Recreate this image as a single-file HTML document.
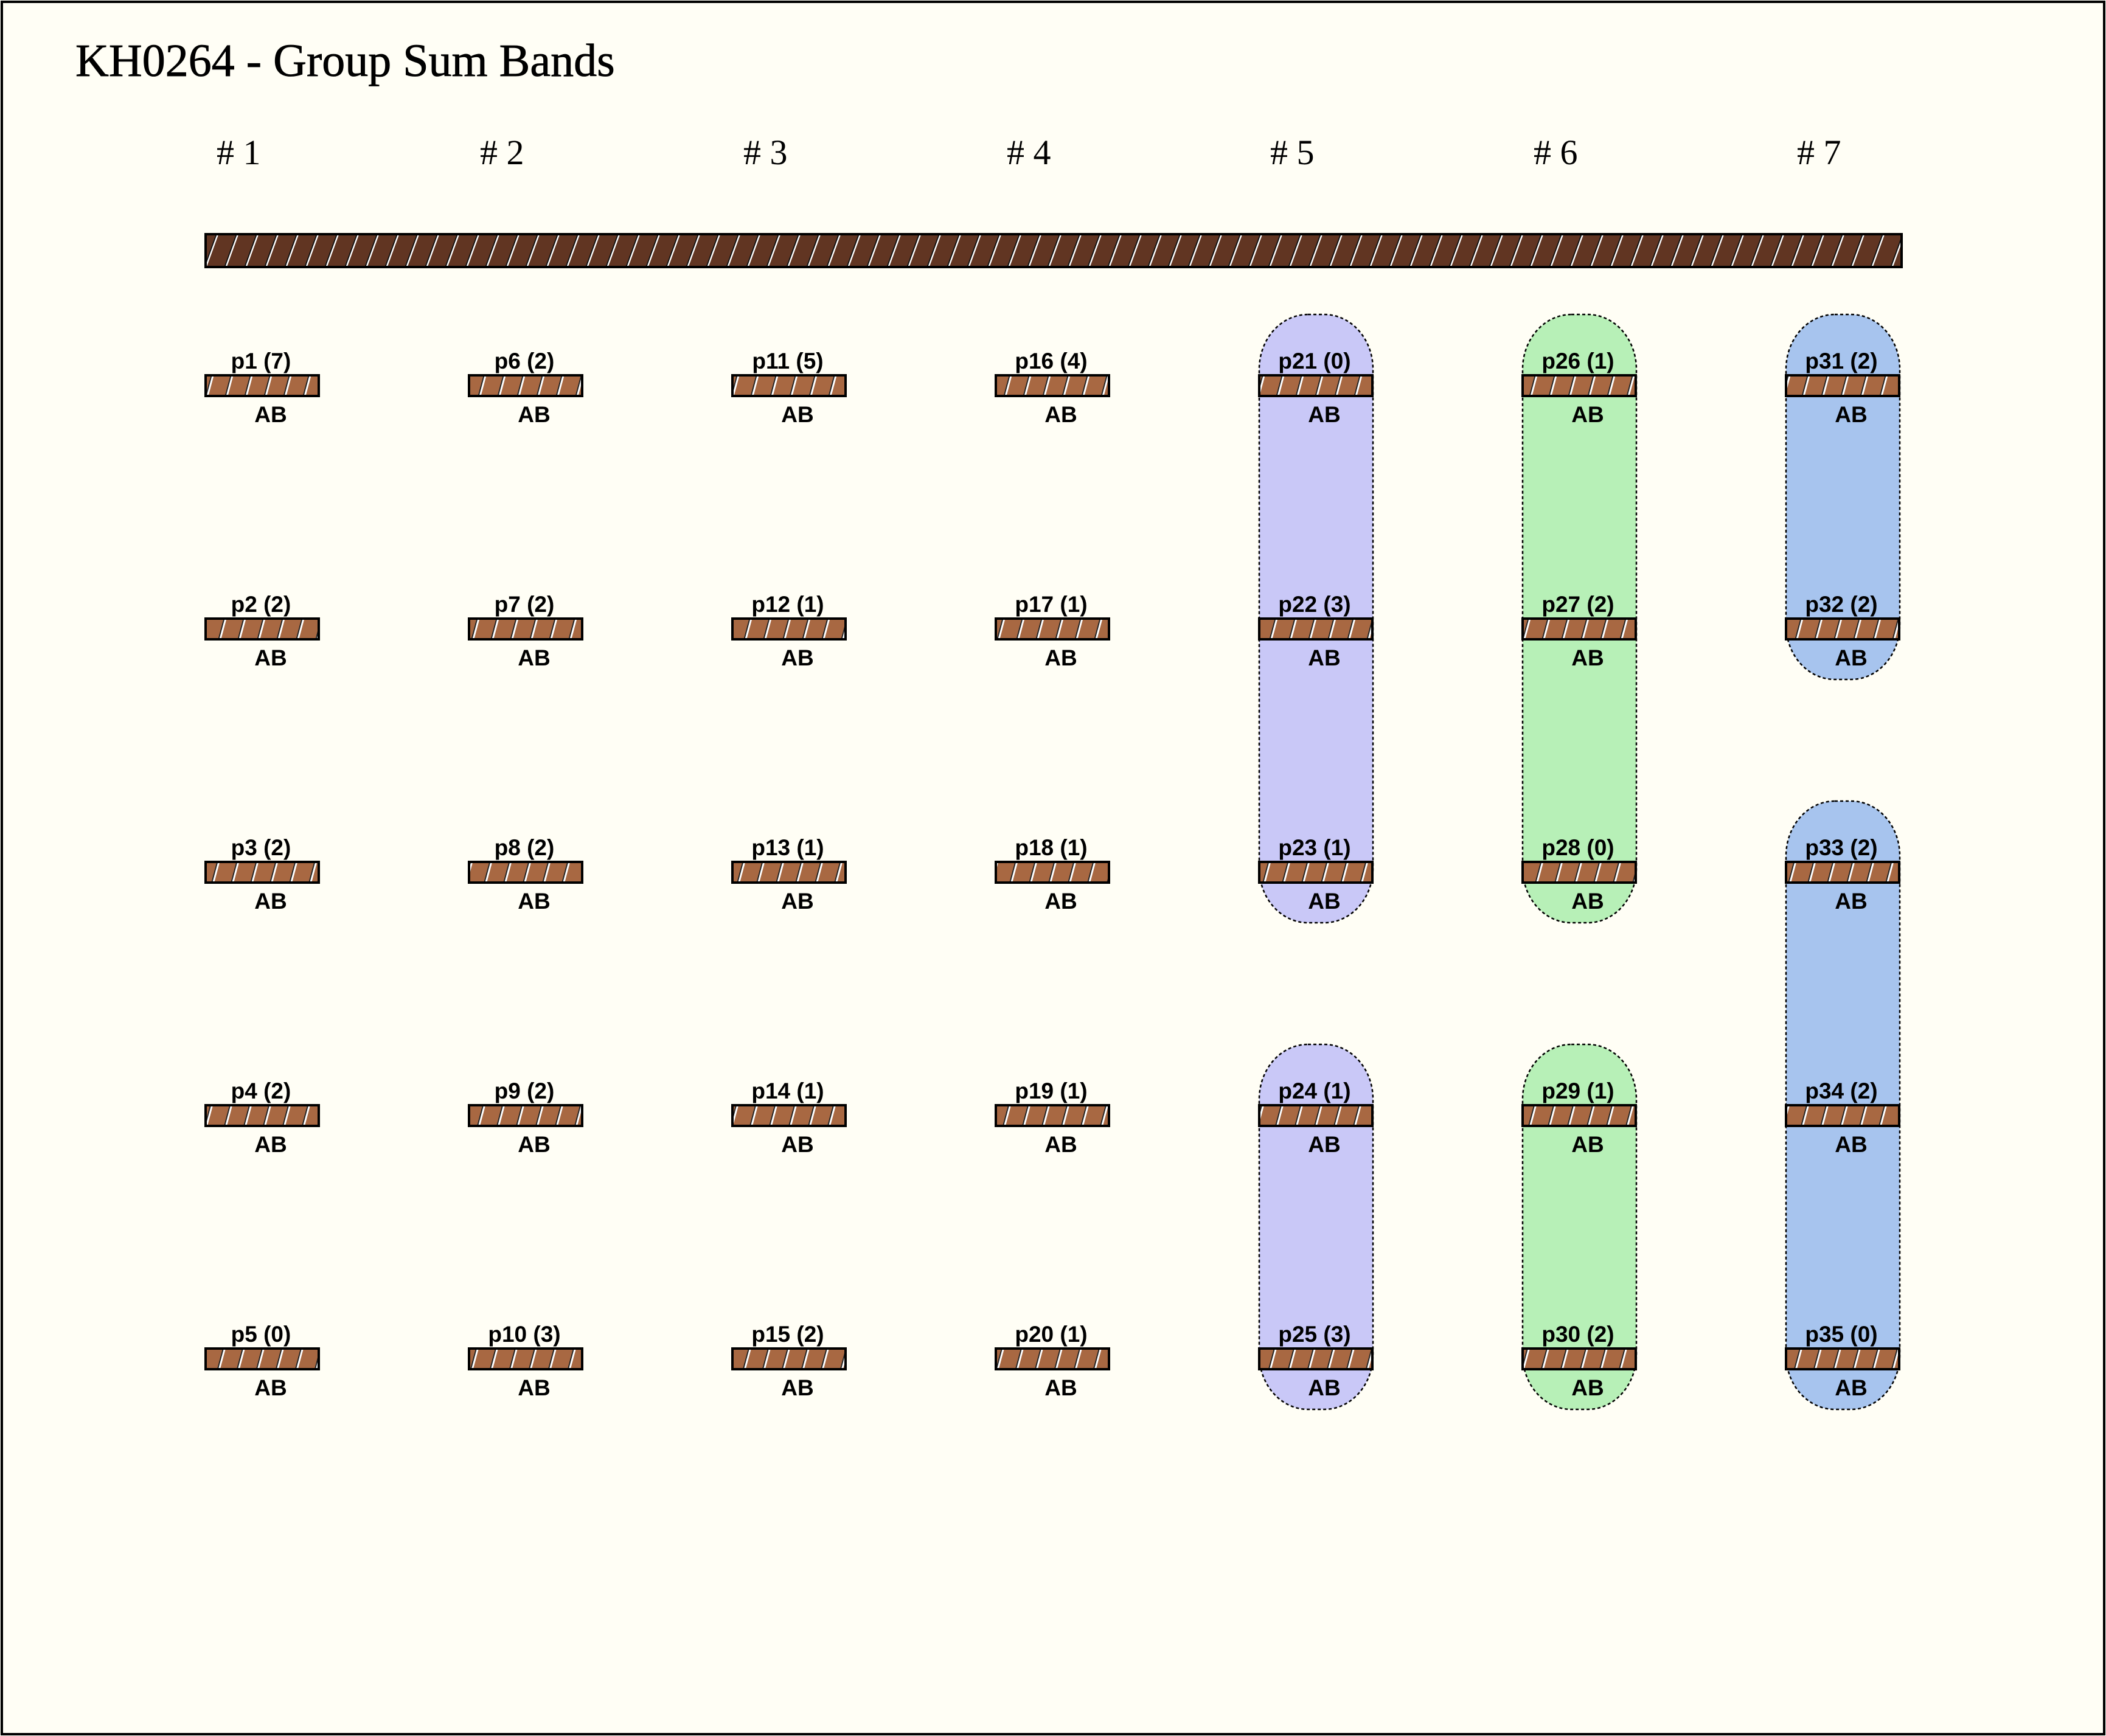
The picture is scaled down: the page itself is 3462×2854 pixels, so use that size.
<!DOCTYPE html>
<html><head><meta charset="utf-8"><style>
html,body{margin:0;padding:0;background:#fffef5;}
svg{display:block;}
.t{font-family:"Liberation Sans",sans-serif;font-weight:bold;font-size:37px;fill:#000;text-anchor:middle;}
.h{font-family:"Liberation Serif",serif;font-size:58px;fill:#000;}
</style></head><body>
<svg width="3462" height="2854" viewBox="0 0 3462 2854" xmlns="http://www.w3.org/2000/svg">
<defs>
<pattern id="hs" patternUnits="userSpaceOnUse" width="32" height="40" patternTransform="skewX(-15)">
<rect width="32" height="40" fill="#a86842"/><rect x="0" y="0" width="2" height="40" fill="#222"/><rect x="2" y="0" width="3" height="40" fill="#fff"/></pattern>
<pattern id="hb" patternUnits="userSpaceOnUse" width="33" height="60" patternTransform="skewX(-20)">
<rect width="33" height="60" fill="#613522"/><rect x="0" y="0" width="2" height="60" fill="#111"/><rect x="2" y="0" width="2.5" height="60" fill="#fff"/></pattern>
</defs>
<rect x="0" y="0" width="3462" height="2854" fill="#fffef5"/>
<rect x="3" y="3" width="3456" height="2848" fill="none" stroke="#000" stroke-width="4"/>
<text x="124" y="125" font-family="Liberation Serif, serif" font-size="76" fill="#000" stroke="#000" stroke-width="0.8">KH0264 - Group Sum Bands</text>
<g class="h">
<text x="356" y="270" class="h"># 1</text>
<text x="789" y="270" class="h"># 2</text>
<text x="1222" y="270" class="h"># 3</text>
<text x="1655" y="270" class="h"># 4</text>
<text x="2088" y="270" class="h"># 5</text>
<text x="2521" y="270" class="h"># 6</text>
<text x="2954" y="270" class="h"># 7</text>
</g>
<rect x="338" y="385" width="2788" height="54" fill="url(#hb)" stroke="#000" stroke-width="4"/>
<g stroke="#000" stroke-width="2.5" stroke-dasharray="5,4">
<rect x="2070" y="517" width="187" height="1000" rx="80" ry="90" fill="#c9c8f7"/>
<rect x="2070" y="1717" width="187" height="600" rx="80" ry="90" fill="#c9c8f7"/>
<rect x="2503" y="517" width="187" height="1000" rx="80" ry="90" fill="#b7f0b7"/>
<rect x="2503" y="1717" width="187" height="600" rx="80" ry="90" fill="#b7f0b7"/>
<rect x="2936" y="517" width="187" height="600" rx="80" ry="90" fill="#a7c4ee"/>
<rect x="2936" y="1317" width="187" height="1000" rx="80" ry="90" fill="#a7c4ee"/>
</g>
<g stroke="#000" stroke-width="4">
<rect x="338" y="617" width="186" height="34" fill="url(#hs)"/><rect x="338" y="1017" width="186" height="34" fill="url(#hs)"/><rect x="338" y="1417" width="186" height="34" fill="url(#hs)"/><rect x="338" y="1817" width="186" height="34" fill="url(#hs)"/><rect x="338" y="2217" width="186" height="34" fill="url(#hs)"/>
<rect x="771" y="617" width="186" height="34" fill="url(#hs)"/><rect x="771" y="1017" width="186" height="34" fill="url(#hs)"/><rect x="771" y="1417" width="186" height="34" fill="url(#hs)"/><rect x="771" y="1817" width="186" height="34" fill="url(#hs)"/><rect x="771" y="2217" width="186" height="34" fill="url(#hs)"/>
<rect x="1204" y="617" width="186" height="34" fill="url(#hs)"/><rect x="1204" y="1017" width="186" height="34" fill="url(#hs)"/><rect x="1204" y="1417" width="186" height="34" fill="url(#hs)"/><rect x="1204" y="1817" width="186" height="34" fill="url(#hs)"/><rect x="1204" y="2217" width="186" height="34" fill="url(#hs)"/>
<rect x="1637" y="617" width="186" height="34" fill="url(#hs)"/><rect x="1637" y="1017" width="186" height="34" fill="url(#hs)"/><rect x="1637" y="1417" width="186" height="34" fill="url(#hs)"/><rect x="1637" y="1817" width="186" height="34" fill="url(#hs)"/><rect x="1637" y="2217" width="186" height="34" fill="url(#hs)"/>
<rect x="2070" y="617" width="186" height="34" fill="url(#hs)"/><rect x="2070" y="1017" width="186" height="34" fill="url(#hs)"/><rect x="2070" y="1417" width="186" height="34" fill="url(#hs)"/><rect x="2070" y="1817" width="186" height="34" fill="url(#hs)"/><rect x="2070" y="2217" width="186" height="34" fill="url(#hs)"/>
<rect x="2503" y="617" width="186" height="34" fill="url(#hs)"/><rect x="2503" y="1017" width="186" height="34" fill="url(#hs)"/><rect x="2503" y="1417" width="186" height="34" fill="url(#hs)"/><rect x="2503" y="1817" width="186" height="34" fill="url(#hs)"/><rect x="2503" y="2217" width="186" height="34" fill="url(#hs)"/>
<rect x="2936" y="617" width="186" height="34" fill="url(#hs)"/><rect x="2936" y="1017" width="186" height="34" fill="url(#hs)"/><rect x="2936" y="1417" width="186" height="34" fill="url(#hs)"/><rect x="2936" y="1817" width="186" height="34" fill="url(#hs)"/><rect x="2936" y="2217" width="186" height="34" fill="url(#hs)"/>
</g>
<g class="t">
<text class="t" x="429" y="606">p1 (7)</text><text class="t" x="429" y="1006">p2 (2)</text><text class="t" x="429" y="1406">p3 (2)</text><text class="t" x="429" y="1806">p4 (2)</text><text class="t" x="429" y="2206">p5 (0)</text>
<text class="t" x="862" y="606">p6 (2)</text><text class="t" x="862" y="1006">p7 (2)</text><text class="t" x="862" y="1406">p8 (2)</text><text class="t" x="862" y="1806">p9 (2)</text><text class="t" x="862" y="2206">p10 (3)</text>
<text class="t" x="1295" y="606">p11 (5)</text><text class="t" x="1295" y="1006">p12 (1)</text><text class="t" x="1295" y="1406">p13 (1)</text><text class="t" x="1295" y="1806">p14 (1)</text><text class="t" x="1295" y="2206">p15 (2)</text>
<text class="t" x="1728" y="606">p16 (4)</text><text class="t" x="1728" y="1006">p17 (1)</text><text class="t" x="1728" y="1406">p18 (1)</text><text class="t" x="1728" y="1806">p19 (1)</text><text class="t" x="1728" y="2206">p20 (1)</text>
<text class="t" x="2161" y="606">p21 (0)</text><text class="t" x="2161" y="1006">p22 (3)</text><text class="t" x="2161" y="1406">p23 (1)</text><text class="t" x="2161" y="1806">p24 (1)</text><text class="t" x="2161" y="2206">p25 (3)</text>
<text class="t" x="2594" y="606">p26 (1)</text><text class="t" x="2594" y="1006">p27 (2)</text><text class="t" x="2594" y="1406">p28 (0)</text><text class="t" x="2594" y="1806">p29 (1)</text><text class="t" x="2594" y="2206">p30 (2)</text>
<text class="t" x="3027" y="606">p31 (2)</text><text class="t" x="3027" y="1006">p32 (2)</text><text class="t" x="3027" y="1406">p33 (2)</text><text class="t" x="3027" y="1806">p34 (2)</text><text class="t" x="3027" y="2206">p35 (0)</text>
</g>
<g class="t">
<text class="t" x="445" y="694">AB</text><text class="t" x="445" y="1094">AB</text><text class="t" x="445" y="1494">AB</text><text class="t" x="445" y="1894">AB</text><text class="t" x="445" y="2294">AB</text>
<text class="t" x="878" y="694">AB</text><text class="t" x="878" y="1094">AB</text><text class="t" x="878" y="1494">AB</text><text class="t" x="878" y="1894">AB</text><text class="t" x="878" y="2294">AB</text>
<text class="t" x="1311" y="694">AB</text><text class="t" x="1311" y="1094">AB</text><text class="t" x="1311" y="1494">AB</text><text class="t" x="1311" y="1894">AB</text><text class="t" x="1311" y="2294">AB</text>
<text class="t" x="1744" y="694">AB</text><text class="t" x="1744" y="1094">AB</text><text class="t" x="1744" y="1494">AB</text><text class="t" x="1744" y="1894">AB</text><text class="t" x="1744" y="2294">AB</text>
<text class="t" x="2177" y="694">AB</text><text class="t" x="2177" y="1094">AB</text><text class="t" x="2177" y="1494">AB</text><text class="t" x="2177" y="1894">AB</text><text class="t" x="2177" y="2294">AB</text>
<text class="t" x="2610" y="694">AB</text><text class="t" x="2610" y="1094">AB</text><text class="t" x="2610" y="1494">AB</text><text class="t" x="2610" y="1894">AB</text><text class="t" x="2610" y="2294">AB</text>
<text class="t" x="3043" y="694">AB</text><text class="t" x="3043" y="1094">AB</text><text class="t" x="3043" y="1494">AB</text><text class="t" x="3043" y="1894">AB</text><text class="t" x="3043" y="2294">AB</text>
</g>
</svg>
</body></html>
